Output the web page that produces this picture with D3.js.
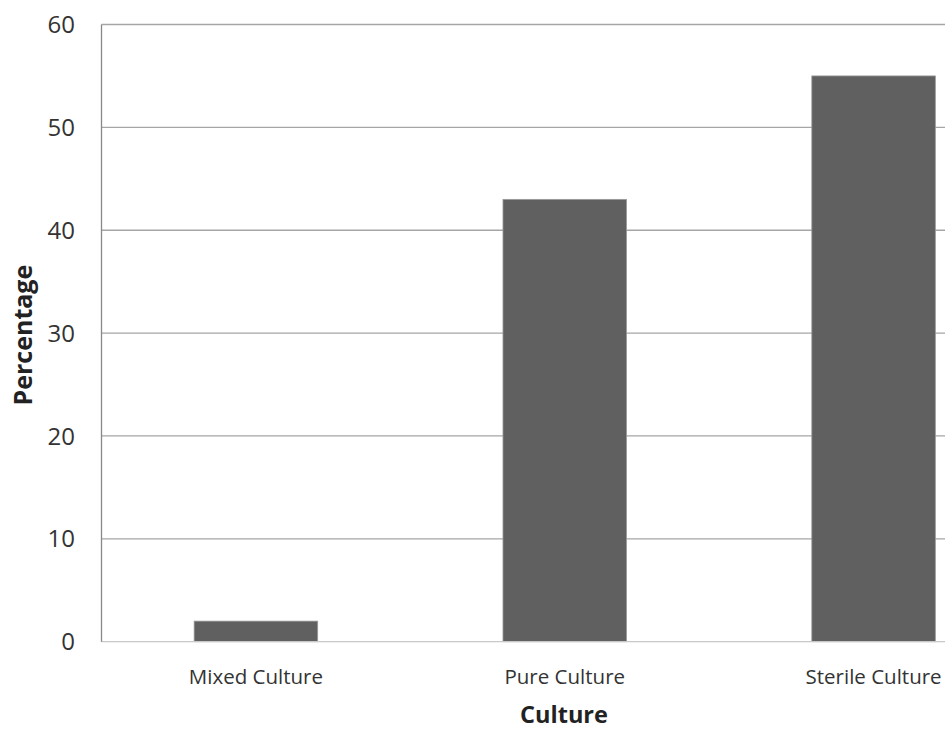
<!DOCTYPE html>
<html><head><meta charset="utf-8">
<script src="https://cdn.jsdelivr.net/npm/d3@7/dist/d3.min.js"></script>
<style>body{margin:0;background:#fff}svg{display:block}</style>
</head><body>
<svg id="c" width="945" height="729"></svg>
<script>
const categories = ["Mixed Culture", "Pure Culture", "Sterile Culture"];
const values = [2, 43, 55];
const yTicks = [0, 10, 20, 30, 40, 50, 60];
const xTitle = "Culture";
const yTitle = "Percentage";

(function () {
const svg = d3.select("#c");
const mLeft = 101.5, mRight = 1028, mTop = 24.5, mBottom = 641.7;
const x = d3.scaleBand().domain(categories).range([mLeft, mRight]).paddingInner(0.6).paddingOuter(0.3);
const y = d3.scaleLinear().domain([0, 60]).range([mBottom, mTop]);
const font = "'Open Sans', sans-serif";

svg.append("g").selectAll("line").data(yTicks.filter(d => d > 0)).join("line")
  .attr("x1", mLeft).attr("x2", mRight)
  .attr("y1", d => y(d)).attr("y2", d => y(d))
  .attr("stroke", "#a6a6a6").attr("stroke-width", 1.3);

svg.append("g").selectAll("rect").data(categories).join("rect")
  .attr("x", d => x(d)).attr("width", x.bandwidth())
  .attr("y", (d, i) => y(values[i])).attr("height", (d, i) => y(0) - y(values[i]))
  .attr("fill", "#606060").attr("stroke", "#9a9a9a").attr("stroke-width", 0.8);

svg.append("line").attr("x1", mLeft).attr("x2", mRight).attr("y1", y(0)).attr("y2", y(0))
  .attr("stroke", "#c8c8c8").attr("stroke-width", 1.3);
svg.append("line").attr("x1", mLeft).attr("x2", mLeft).attr("y1", mTop).attr("y2", mBottom)
  .attr("stroke", "#888").attr("stroke-width", 1.3);

svg.append("g").selectAll("text").data(yTicks).join("text")
  .attr("x", 75).attr("y", d => y(d)).attr("dy", "0.36em")
  .attr("text-anchor", "end").attr("font-family", font).attr("font-size", 24)
  .attr("fill", "#333").text(d => d);

svg.append("g").selectAll("text").data(categories).join("text")
  .attr("x", d => x(d) + x.bandwidth() / 2).attr("y", 684)
  .attr("text-anchor", "middle").attr("font-family", font).attr("font-size", 20.5)
  .attr("fill", "#333").text(d => d);

svg.append("text").attr("x", 564).attr("y", 723)
  .attr("text-anchor", "middle").attr("font-family", font).attr("font-size", 23.5)
  .attr("font-weight", "bold").attr("fill", "#222").text(xTitle);
svg.append("text").attr("transform", `translate(32,${(mTop + mBottom) / 2 + 2}) rotate(-90)`)
  .attr("text-anchor", "middle").attr("font-family", font).attr("font-size", 25)
  .attr("font-weight", "bold").attr("fill", "#222").text(yTitle);
})();
</script>
</body></html>
